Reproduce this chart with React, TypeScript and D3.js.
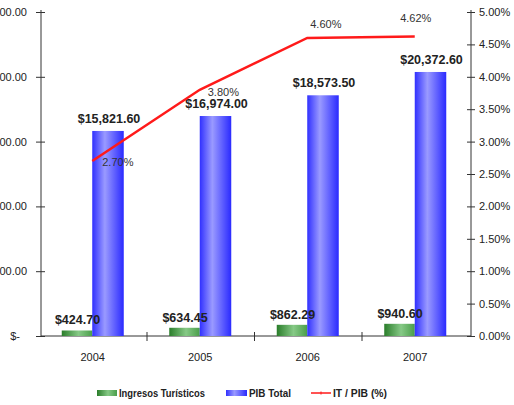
import { useEffect, useRef } from "react"
import * as d3 from "d3"

const years = ["2004", "2005", "2006", "2007"]
const ingresosTuristicos = [424.7, 634.45, 862.29, 940.6]
const pibTotal = [15821.6, 16974.0, 18573.5, 20372.6]
const itPib = [0.027, 0.038, 0.046, 0.0462]
const moneyTicks = [0, 5000, 10000, 15000, 20000, 25000]
const pctTicks = [0, 0.005, 0.01, 0.015, 0.02, 0.025, 0.03, 0.035, 0.04, 0.045, 0.05]
const legendLabels = ["Ingresos Turísticos", "PIB Total", "IT / PIB (%)"]

// where Excel put each % label relative to its point
const pctLabelOffsets = [
  { dx: 10, dy: 5, anchor: "start" },
  { dx: 8, dy: 6, anchor: "start" },
  { dx: 3, dy: -10, anchor: "start" },
  { dx: 1, dy: -15, anchor: "middle" },
]

const fmtMoney = d3.format("$,.2f")
const fmtPct = d3.format(".2%")
const font = "'Liberation Sans', Arial, sans-serif"

export default function App() {
  const svgRef = useRef<SVGSVGElement | null>(null)

  useEffect(() => {
    if (!svgRef.current) return
    const svg = d3.select(svgRef.current)
    svg.selectAll("*").remove()

    const width = 514
    const height = 405
    const left = 41
    const right = 471
    const top = 12
    const bottom = 336

    svg.attr("width", width).attr("height", height).attr("viewBox", `0 0 ${width} ${height}`)

    const defs = svg.append("defs")
    const blue = defs.append("linearGradient").attr("id", "gBlue").attr("x1", 0).attr("x2", 1).attr("y1", 0).attr("y2", 0)
    blue.append("stop").attr("offset", "0%").attr("stop-color", "#3030ff")
    blue.append("stop").attr("offset", "40%").attr("stop-color", "#9a9aff")
    blue.append("stop").attr("offset", "100%").attr("stop-color", "#2a2aff")
    const green = defs.append("linearGradient").attr("id", "gGreen").attr("x1", 0).attr("x2", 1).attr("y1", 0).attr("y2", 0)
    green.append("stop").attr("offset", "0%").attr("stop-color", "#2a7d2a")
    green.append("stop").attr("offset", "55%").attr("stop-color", "#86c986")
    green.append("stop").attr("offset", "100%").attr("stop-color", "#4a9e4a")

    const x = d3.scaleBand<string>().domain(years).range([left, right])
    const inner = d3.scaleBand<string>().domain(["it", "pib"]).range([-33, 30])
    const y = d3.scaleLinear().domain([0, 25000]).range([bottom, top])
    const yPct = d3.scaleLinear().domain([0, 0.05]).range([bottom, top])
    const cx = (d: string) => (x(d) ?? 0) + x.bandwidth() / 2

    // left axis
    svg
      .append("g")
      .attr("transform", `translate(${left},0)`)
      .call(
        d3
          .axisLeft(y)
          .tickValues(moneyTicks)
          .tickSize(5)
          .tickPadding(9)
          .tickFormat((d) => (+d === 0 ? "$-" : fmtMoney(+d)))
      )
      .call((g) => g.select(".domain").attr("stroke", "#333").attr("d", `M0,${top - 2}V${bottom}`))
      .call((g) => g.selectAll(".tick line").attr("x1", 4).attr("stroke", "#333"))
      .call((g) =>
        g
          .selectAll(".tick text")
          .attr("fill", "#222")
          .attr("font-size", 11)
          .attr("font-family", font)
          .attr("dx", (d) => (+d === 0 ? -7 : 0))
      )

    // right axis
    svg
      .append("g")
      .attr("transform", `translate(${right},0)`)
      .call(d3.axisRight(yPct).tickValues(pctTicks).tickSize(4).tickPadding(4).tickFormat((d) => fmtPct(+d)))
      .call((g) => g.select(".domain").attr("stroke", "#333").attr("d", `M0,${top - 2}V${bottom}`))
      .call((g) => g.selectAll(".tick line").attr("x1", -4).attr("stroke", "#333"))
      .call((g) => g.selectAll(".tick text").attr("fill", "#222").attr("font-size", 11).attr("font-family", font))

    // x axis
    svg
      .append("line")
      .attr("x1", left)
      .attr("x2", right)
      .attr("y1", bottom)
      .attr("y2", bottom)
      .attr("stroke", "#333")
    svg
      .append("g")
      .selectAll("line")
      .data(years.slice(1))
      .join("line")
      .attr("x1", (d) => (x(d) ?? 0) - 1.5)
      .attr("x2", (d) => (x(d) ?? 0) - 1.5)
      .attr("y1", bottom - 4)
      .attr("y2", bottom + 5)
      .attr("stroke", "#333")
    svg
      .append("g")
      .selectAll("text")
      .data(years)
      .join("text")
      .text((d) => d)
      .attr("x", (d) => cx(d) - 2)
      .attr("y", 361)
      .attr("text-anchor", "middle")
      .attr("font-size", 11)
      .attr("font-family", font)
      .attr("fill", "#222")

    // bars
    const bars = svg.append("g")
    bars
      .selectAll("rect.it")
      .data(years)
      .join("rect")
      .attr("class", "it")
      .attr("x", (d) => cx(d) + (inner("it") ?? 0))
      .attr("width", inner.bandwidth() - 1)
      .attr("y", (d, i) => y(ingresosTuristicos[i]))
      .attr("height", (d, i) => bottom - y(ingresosTuristicos[i]))
      .attr("fill", "url(#gGreen)")
    bars
      .selectAll("rect.pib")
      .data(years)
      .join("rect")
      .attr("class", "pib")
      .attr("x", (d) => cx(d) + (inner("pib") ?? 0) - 1)
      .attr("width", inner.bandwidth())
      .attr("y", (d, i) => y(pibTotal[i]))
      .attr("height", (d, i) => bottom - y(pibTotal[i]))
      .attr("fill", "url(#gBlue)")

    // bar value labels
    const valueLabels = svg.append("g").attr("font-family", font).attr("font-weight", 700).attr("font-size", 12.5).attr("fill", "#222")
    valueLabels
      .selectAll("text.it")
      .data(years)
      .join("text")
      .attr("class", "it")
      .text((d, i) => fmtMoney(ingresosTuristicos[i]))
      .attr("x", (d) => cx(d) + (inner("it") ?? 0) + inner.bandwidth() / 2)
      .attr("y", (d, i) => y(ingresosTuristicos[i]) - 6)
      .attr("text-anchor", "middle")
    valueLabels
      .selectAll("text.pib")
      .data(years)
      .join("text")
      .attr("class", "pib")
      .text((d, i) => fmtMoney(pibTotal[i]))
      .attr("x", (d) => cx(d) + (inner("pib") ?? 0) + inner.bandwidth() / 2)
      .attr("y", (d, i) => y(pibTotal[i]) - 8)
      .attr("text-anchor", "middle")

    // IT / PIB line
    const line = d3
      .line<number>()
      .x((d, i) => cx(years[i]) - 2.5)
      .y((d) => yPct(d))
    svg.append("path").datum(itPib).attr("d", line).attr("fill", "none").attr("stroke", "#ff1a1a").attr("stroke-width", 2.5)

    svg
      .append("g")
      .selectAll("text")
      .data(itPib)
      .join("text")
      .text((d) => fmtPct(d))
      .attr("x", (d, i) => cx(years[i]) - 2.5 + pctLabelOffsets[i].dx)
      .attr("y", (d, i) => yPct(d) + pctLabelOffsets[i].dy)
      .attr("text-anchor", (d, i) => pctLabelOffsets[i].anchor)
      .attr("font-size", 11)
      .attr("font-family", font)
      .attr("fill", "#333")

    // legend
    const legend = svg.append("g").attr("font-family", font).attr("font-weight", 700).attr("font-size", 10).attr("fill", "#222")
    legend.append("rect").attr("x", 97).attr("y", 390).attr("width", 20).attr("height", 6).attr("fill", "url(#gGreen)")
    legend.append("text").text(legendLabels[0]).attr("x", 119).attr("y", 397).attr("textLength", 86).attr("lengthAdjust", "spacingAndGlyphs")
    legend.append("rect").attr("x", 226).attr("y", 390).attr("width", 21).attr("height", 6).attr("fill", "url(#gBlue)")
    legend.append("text").text(legendLabels[1]).attr("x", 249).attr("y", 397).attr("textLength", 42).attr("lengthAdjust", "spacingAndGlyphs")
    legend.append("line").attr("x1", 311).attr("x2", 331).attr("y1", 393).attr("y2", 393).attr("stroke", "#ff1a1a").attr("stroke-width", 1.5)
    legend.append("line").attr("x1", 321).attr("x2", 321).attr("y1", 391.5).attr("y2", 394.5).attr("stroke", "#ff1a1a").attr("stroke-width", 1)
    legend.append("text").text(legendLabels[2]).attr("x", 333).attr("y", 397).attr("textLength", 54).attr("lengthAdjust", "spacingAndGlyphs")
  }, [])

  return (
    <div style={{ position: "absolute", left: 0, top: 0, width: 514, height: 405, background: "#fff", overflow: "hidden" }}>
      <svg ref={svgRef} style={{ display: "block" }} />
    </div>
  )
}
